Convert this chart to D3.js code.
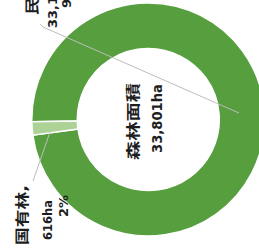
<!DOCTYPE html>
<html>
<head>
<meta charset="utf-8">
<script src="https://cdn.jsdelivr.net/npm/d3@7/dist/d3.min.js"></script>
<style>
  html, body { margin: 0; padding: 0; background: #fff; }
  svg { display: block; }
  text { font-family: "DejaVu Sans", "Noto Sans CJK JP", sans-serif; font-weight: bold; fill: #1e1e1e; }
</style>
</head>
<body>
<svg id="chart" width="259" height="248"></svg>
<script>
// ---- data ----
const categories = ["民有林", "国有林"];
const values = [33185, 616];
const percents = ["98%", "2%"];
const centerTitle = "森林面積";
const centerValue = 33801;
const colors = ["#579e3f", "#acd296"];

// ---- layout ----
const W = 259, H = 248;
const cx = 148.3, cy = 119.5;
const rOuter = 116.5, rInner = 71;
const startA = -Math.PI / 2 - 0.02;

const svg = d3.select("#chart");
svg.append("rect").attr("width", W).attr("height", H).attr("fill", "#fff");

const pie = d3.pie().sort(null).value(d => d.v)
  .startAngle(startA).endAngle(startA + 2 * Math.PI);
const arc = d3.arc().innerRadius(rInner).outerRadius(rOuter);
const data = categories.map((c, i) => ({ c, v: values[i], p: percents[i], i }));

const g = svg.append("g").attr("transform", `translate(${cx},${cy})`);
g.selectAll("path").data(pie(data)).join("path")
  .attr("d", arc)
  .attr("fill", d => colors[d.data.i])
  .attr("stroke", "#fff")
  .attr("stroke-width", 1.5);

// leader lines (screen coordinates)
const leaders = [
  [[40, 24], [43, 27], [239, 113]],
  [[50, 132], [33, 181]]
];
svg.selectAll("path.leader").data(leaders).join("path")
  .attr("class", "leader")
  .attr("d", d3.line())
  .attr("fill", "none")
  .attr("stroke", "#bdbdbd")
  .attr("stroke-width", 1);

// rotated text helper: x = baseline (screen x), y = start (screen y), reading upward
function rtext(str, x, y, size, len) {
  const t = svg.append("text")
    .attr("transform", `translate(${x},${y}) rotate(-90)`)
    .attr("text-anchor", "start")
    .style("font-size", size + "px")
    .text(str);
  if (len) t.attr("textLength", len).attr("lengthAdjust", "spacingAndGlyphs");
  return t;
}

const fmt = d3.format(",");
// center
rtext(centerTitle, 138, 160, 14, 77);
rtext(fmt(centerValue) + "ha", 162, 153, 13.5, 69);

// label 民有林
rtext(data[0].c + ",", 37, 15, 14, 60);
rtext(fmt(data[0].v) + "ha", 57, 28, 13);
rtext(data[0].p, 71, 8, 13);

// label 国有林
rtext(data[1].c + ",", 27, 245, 14, 60);
rtext(fmt(data[1].v) + "ha", 52, 240, 12.5, 40);
rtext(data[1].p, 68, 217, 12.5, 22);
</script>
</body>
</html>
